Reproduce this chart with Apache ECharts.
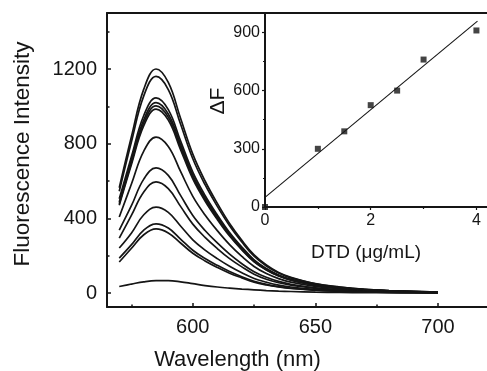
<!DOCTYPE html>
<html>
<head>
<meta charset="utf-8">
<style>html,body{margin:0;padding:0;background:#fff;}#c{width:487px;height:371px;}</style>
<script src="https://cdn.jsdelivr.net/npm/echarts@6/dist/echarts.min.js"></script>
</head>
<body>
<div id="c"></div>
<script>
// ---- Main plot data (fluorescence spectra) ----
const wavelengths = [570,575,580,585,590,595,600,605,610,615,620,625,630,635,640,650,660,670,680,690,700];
const spec1  = [564,840,1092,1200,1128,936,744,600,480,372,282,204,150,110,84,50,32,20,13,8,5];
const spec2  = [545,812,1056,1160,1090,905,719,580,464,360,273,197,145,107,81,49,31,20,13,8,5];
const spec3  = [505,732,951,1045,982,815,648,523,418,324,246,178,131,96,73,44,28,18,11,7,4];
const spec4  = [488,714,928,1020,959,796,632,510,408,316,240,173,128,94,71,43,28,17,11,7,4];
const spec5  = [478,701,912,1002,942,782,621,501,401,311,235,170,125,92,70,42,27,17,11,7,4];
const spec6  = [470,690,896,985,926,768,611,493,394,305,231,167,123,91,69,41,27,17,11,7,4];
const spec7  = [407,585,760,835,785,651,518,418,334,259,196,142,104,77,58,35,23,14,9,6,3];
const spec8  = [337,469,610,670,630,523,415,335,268,208,157,114,84,62,47,28,18,11,7,5,3];
const spec9  = [294,417,541,595,559,464,369,298,238,184,140,101,74,55,42,25,16,10,7,4,2];
const spec10 = [241,322,419,460,432,359,285,230,184,143,108,78,58,42,32,19,12,8,5,3,2];
const spec11 = [187,259,337,370,348,289,229,185,148,115,87,63,46,34,26,16,10,6,4,3,1];
const spec12 = [166,240,312,343,322,268,213,172,137,106,81,58,43,32,24,14,9,6,4,2,1];
const spec13 = [35,48,60,66,66,60,50,40,32,26,21,17,13,10,8,5,3,2,1,1,0];
const spectra = [spec1,spec2,spec3,spec4,spec5,spec6,spec7,spec8,spec9,spec10,spec11,spec12,spec13];

// main axis ticks
const mainXLabels = [600,650,700];
const mainXMinor = [575,625,675];
const mainYLabels = [0,400,800,1200];
const mainYMinor = [200,600,1000,1400];

// ---- Inset data ----
const conc = [0,1,1.5,2,2.5,3,4];
const deltaF = [0,300,390,525,600,760,910];
const fitX = [0,4.02];
const fitY = [50,958];
const insetXLabels = [0,2,4];
const insetXMinor = [1,3];
const insetYLabels = [0,300,600,900];
const insetYMinor = [150,450,750];

const FONT = 'Liberation Sans, Arial, Helvetica, sans-serif';
const INK = '#151515';
const plain = (v) => String(v);

const chart = echarts.init(document.getElementById('c'), null, {renderer:'canvas'});

function lineAx(show){ return {show:show, onZero:false, lineStyle:{color:INK,width:2}}; }
const noLine = {show:false, onZero:false};

const series = spectra.map((s)=>({
  type:'line', xAxisIndex:0, yAxisIndex:0, smooth:0.4, showSymbol:false, symbol:'none',
  lineStyle:{color:INK,width:1.7}, data: wavelengths.map((w,i)=>[w,s[i]]), z:2
}));
series.push({
  type:'line', xAxisIndex:3, yAxisIndex:2, showSymbol:false, symbol:'none',
  lineStyle:{color:INK,width:1.1}, data: fitX.map((x,i)=>[x,fitY[i]]), z:3
});
series.push({
  type:'scatter', xAxisIndex:3, yAxisIndex:2, symbol:'rect', symbolSize:6,
  itemStyle:{color:INK}, data: conc.map((c,i)=>[c,deltaF[i]]), z:4
});

const option = {
  animation:false,
  backgroundColor:'#fff',
  grid:[
    {left:107, top:13, width:380, height:294, containLabel:false},
    {left:265, top:13, width:222, height:194, containLabel:false}
  ],
  xAxis:[
    {gridIndex:0, type:'value', position:'bottom', min:565, max:720,
     axisLine:lineAx(true), splitLine:{show:false},
     axisTick:{show:true, inside:true, length:4, customValues:mainXLabels, lineStyle:{color:INK,width:1.5}},
     axisLabel:{show:true, customValues:mainXLabels, formatter:plain, margin:10, fontSize:20, color:INK, fontFamily:FONT}},
    {gridIndex:0, type:'value', position:'bottom', min:565, max:720,
     axisLine:noLine, splitLine:{show:false},
     axisTick:{show:true, inside:true, length:2.5, customValues:mainXMinor, lineStyle:{color:INK,width:1.5}},
     axisLabel:{show:false}},
    {gridIndex:0, type:'value', position:'top', min:565, max:720,
     axisLine:lineAx(true), splitLine:{show:false}, axisTick:{show:false}, axisLabel:{show:false}},
    {gridIndex:1, type:'value', position:'bottom', min:0, max:4.2,
     axisLine:lineAx(true), splitLine:{show:false},
     axisTick:{show:true, inside:false, length:3, customValues:insetXLabels, lineStyle:{color:INK,width:1.2}},
     axisLabel:{show:true, customValues:insetXLabels, formatter:plain, margin:6, fontSize:16, color:INK, fontFamily:FONT}},
    {gridIndex:1, type:'value', position:'bottom', min:0, max:4.2,
     axisLine:noLine, splitLine:{show:false},
     axisTick:{show:true, inside:false, length:2, customValues:insetXMinor, lineStyle:{color:INK,width:1.2}},
     axisLabel:{show:false}}
  ],
  yAxis:[
    {gridIndex:0, type:'value', position:'left', min:-75, max:1500,
     axisLine:lineAx(true), splitLine:{show:false},
     axisTick:{show:true, inside:true, length:4, customValues:mainYLabels, lineStyle:{color:INK,width:1.5}},
     axisLabel:{show:true, customValues:mainYLabels, formatter:plain, margin:10, fontSize:20, color:INK, fontFamily:FONT}},
    {gridIndex:0, type:'value', position:'left', min:-75, max:1500,
     axisLine:noLine, splitLine:{show:false},
     axisTick:{show:true, inside:true, length:2.5, customValues:mainYMinor, lineStyle:{color:INK,width:1.5}},
     axisLabel:{show:false}},
    {gridIndex:1, type:'value', position:'left', min:0, max:1000,
     axisLine:lineAx(true), splitLine:{show:false},
     axisTick:{show:true, inside:false, length:3, customValues:insetYLabels, lineStyle:{color:INK,width:1.2}},
     axisLabel:{show:true, customValues:insetYLabels, formatter:plain, margin:5, fontSize:16, color:INK, fontFamily:FONT}},
    {gridIndex:1, type:'value', position:'left', min:0, max:1000,
     axisLine:noLine, splitLine:{show:false},
     axisTick:{show:true, inside:false, length:2, customValues:insetYMinor, lineStyle:{color:INK,width:1.2}},
     axisLabel:{show:false}}
  ],
  graphic:[
    {type:'text', x:22.5, y:154, rotation:Math.PI/2,
     style:{text:'Fluorescence Intensity', font:'22.5px '+FONT, fill:INK, align:'center', verticalAlign:'middle'}},
    {type:'text', x:237.5, y:360,
     style:{text:'Wavelength (nm)', font:'22px '+FONT, fill:INK, align:'center', verticalAlign:'middle'}},
    {type:'text', x:218, y:101, rotation:Math.PI/2,
     style:{text:'ΔF', font:'21px '+FONT, fill:INK, align:'center', verticalAlign:'middle'}},
    {type:'text', x:366, y:253,
     style:{text:'DTD (μg/mL)', font:'19px '+FONT, fill:INK, align:'center', verticalAlign:'middle'}}
  ],
  series: series
};
chart.setOption(option);
</script>
</body>
</html>
